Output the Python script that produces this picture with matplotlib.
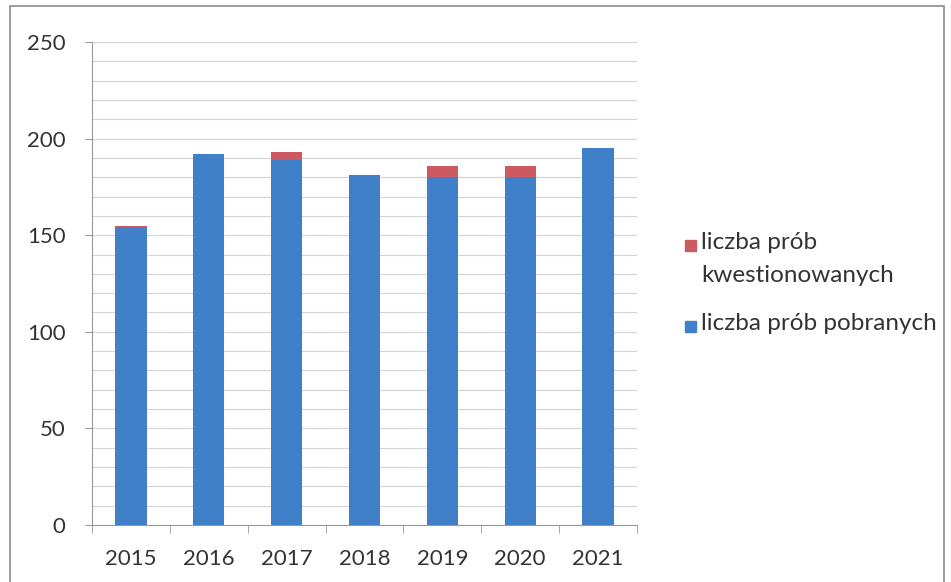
import matplotlib
matplotlib.use("Agg")
import matplotlib.pyplot as plt
from matplotlib.patches import Rectangle
import numpy as np

years = ["2015", "2016", "2017", "2018", "2019", "2020", "2021"]
pobranych = [154, 192, 189, 181, 180, 180, 195]
kwestionowanych = [1, 0, 4, 0, 6, 6, 0]
legend_labels = ["liczba prób\nkwestionowanych", "liczba prób pobranych"]

plt.rcParams['font.family'] = ['Lato', 'DejaVu Sans']

W, H = 951, 582
fig = plt.figure(figsize=(W/100, H/100), dpi=100)
ax = fig.add_axes([92/W, 1-525/H, (637-92)/W, (525-42)/H])

x = np.arange(len(years))
blue = "#3f80c8"
red = "#cc5a60"
ax.bar(x, pobranych, width=0.4, color=blue, zorder=3)
ax.bar(x, kwestionowanych, width=0.4, bottom=pobranych, color=red, zorder=3)

ax.set_ylim(0, 250)
ax.set_xlim(-0.5, len(years) - 0.5)
ax.set_yticks(np.arange(0, 251, 50))
ax.set_yticks(np.arange(0, 251, 10), minor=True)
ax.grid(axis='y', which='both', color='#d4d4d4', linewidth=0.8, zorder=0)
ax.set_xticks(x)
ax.set_xticklabels(years)
ax.set_xticks(np.arange(-0.5, len(years), 1), minor=True)
ax.tick_params(axis='x', which='major', length=0, labelsize=16, pad=17)
ax.tick_params(axis='x', which='minor', length=6, color='#999999', direction='out')
ax.tick_params(axis='y', which='major', length=5, color='#999999', labelsize=16, pad=14)
ax.tick_params(axis='y', which='minor', length=0)
for lbl in ax.get_xticklabels() + ax.get_yticklabels():
    lbl.set_color('#333333')
for s in ['top', 'right']:
    ax.spines[s].set_visible(False)
ax.spines['left'].set_color('#999999')
ax.spines['bottom'].set_color('#999999')

# legend (drawn manually so the marker sits on the first line)
def fy(py):
    return 1 - py / H

for col, lab, cy in [(red, legend_labels[0], 245), (blue, legend_labels[1], 326)]:
    fig.patches.append(Rectangle((685/W, fy(cy + 6)), 11/W, 11/H,
                                 transform=fig.transFigure, color=col))
    fig.text(701/W, fy(cy - 13), lab, ha='left', va='top', fontsize=17.5,
             color='#333333', linespacing=1.7)

fig.patches.append(Rectangle((10/W, -0.1), (944-10)/W, 1.1 - 6/H,
                             transform=fig.transFigure, fill=False,
                             edgecolor='#8a8a8a', linewidth=1.2))

fig.savefig("out.png", dpi=100)
